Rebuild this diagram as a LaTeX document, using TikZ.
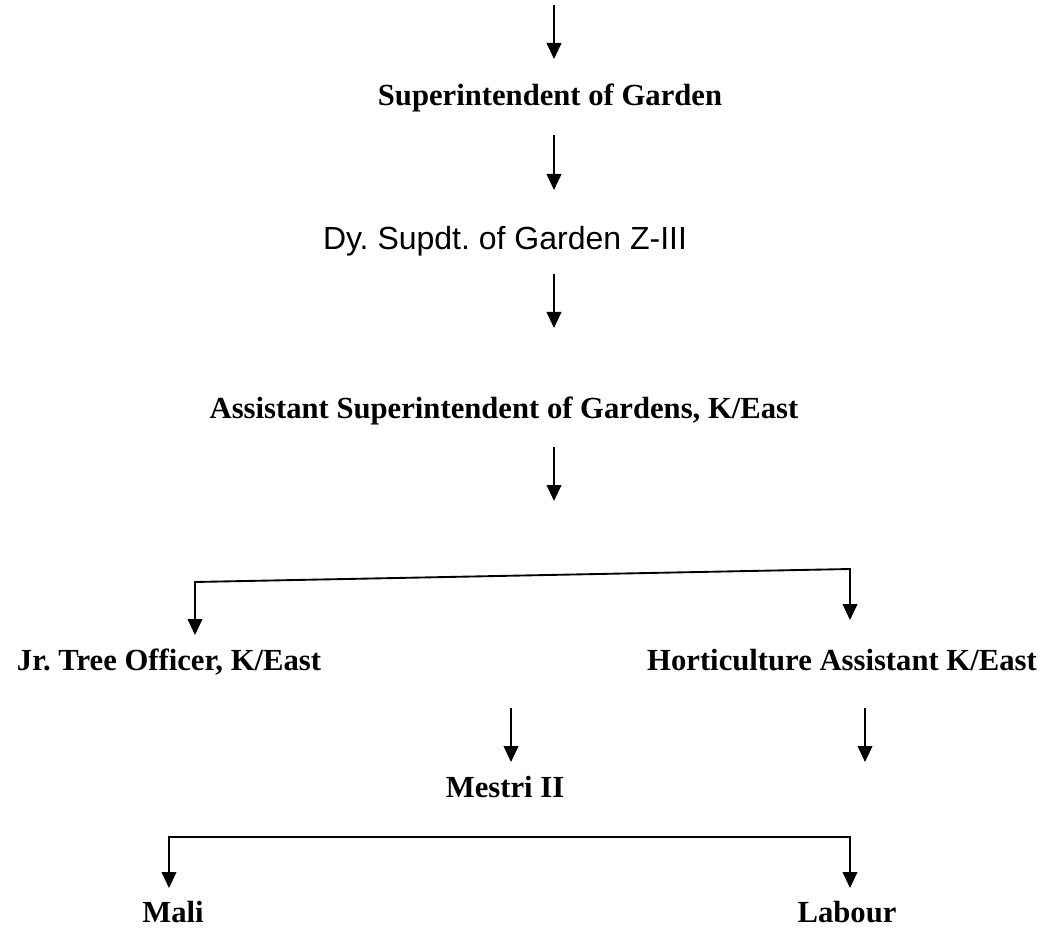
\documentclass[tikz,border=0pt]{standalone}
\usepackage{fontspec}
\setmainfont{Liberation Serif}
\newfontfamily\arialfont{Liberation Sans}
\usetikzlibrary{arrows.meta}
\frenchspacing

\begin{document}
\begin{tikzpicture}[x=0.75pt, y=-0.75pt, line width=1.4pt,
      every node/.append style={inner sep=0pt,anchor=base,font=\bfseries\fontsize{23}{27}\selectfont},
      arr/.style={-{Triangle[length=12pt,width=11pt]}},
      twoarr/.style={{Triangle[length=12pt,width=11pt]}-{Triangle[length=12pt,width=11pt]}}]
    \tikzstyle{plain} = [font=\arialfont\fontsize{24}{28}\selectfont]
    \useasboundingbox (0,0) rectangle (1042,930);
    % posts
    \node (sup) at (550,106) {Superintendent of Garden};
    \node [plain] (dy) at (505,250) {Dy. Supdt. of Garden Z-III};
    \node (asg) at (504,418) {Assistant Superintendent of Gardens, K/East};
    \node (jto) at (169,670) {Jr. Tree Officer, K/East};
    \node (hort) at (842,670) {Horticulture Assistant K/East};
    \node (mestri) at (505,797) {Mestri II};
    \node (mali) at (173,922) {Mali};
    \node (labour) at (847,922) {Labour};
    % arrow ends
    \coordinate (top) at (554,5);
    \coordinate (sup_in) at (554,59);
    \coordinate (sup_out) at (554,135);
    \coordinate (dy_in) at (554,190);
    \coordinate (dy_out) at (554,274);
    \coordinate (asg_in) at (554,328);
    \coordinate (asg_out) at (554,447);
    \coordinate (split) at (554,501);
    \coordinate (jto_in) at (195,635);
    \coordinate (hort_in) at (850,620);
    \coordinate (mestri_out) at (511,708);
    \coordinate (mestri_in) at (511,762);
    \coordinate (hort_out) at (865,708);
    \coordinate (hort_end) at (865,762);
    \coordinate (mali_in) at (169,888);
    \coordinate (labour_in) at (850,888);
    \draw[arr] (top) -- (sup_in);
    \draw[arr] (sup_out) -- (dy_in);
    \draw[arr] (dy_out) -- (asg_in);
    \draw[arr] (asg_out) -- (split);
    \draw[twoarr] (jto_in) -- (195,582) -- (850,569) -- (hort_in);
    \draw[arr] (mestri_out) -- (mestri_in);
    \draw[arr] (hort_out) -- (hort_end);
    \draw[twoarr] (mali_in) |- (850,837) -- (labour_in);
  \end{tikzpicture}
\end{document}
